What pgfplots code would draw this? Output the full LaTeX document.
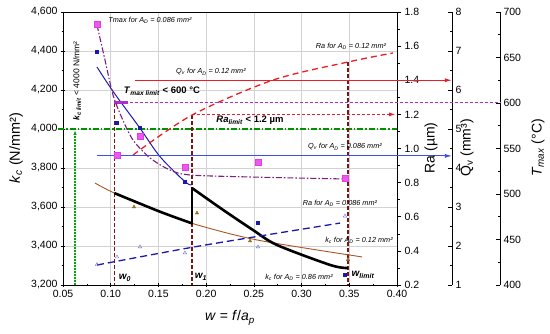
\documentclass[border=0pt]{standalone}
\usepackage{fontspec}
\setmainfont{Liberation Sans}
\usepackage{pgfplots}
\pgfplotsset{compat=1.18}
\usetikzlibrary{arrows.meta}
\definecolor{kblue}{RGB}{25,25,175}
\definecolor{qvblue}{RGB}{60,80,225}
\definecolor{kbrown}{RGB}{170,85,35}
\definecolor{tri}{RGB}{150,110,40}
\definecolor{mag}{RGB}{230,60,230}
\definecolor{purp}{RGB}{125,30,125}
\definecolor{purpl}{RGB}{175,45,200}
\definecolor{kred}{RGB}{235,30,40}
\definecolor{dred}{RGB}{125,20,20}
\definecolor{kgreen}{RGB}{0,145,0}
\definecolor{dgreen}{RGB}{0,170,0}
\definecolor{ltri}{RGB}{110,110,215}
\pgfplotsset{
  base/.style={scale only axis, height=273pt, xmin=0.05,
    /pgf/number format/assume math mode=true,
    ticklabel style={font=\fontsize{10.5}{12}\selectfont},
    every tick/.style={black, line width=0.6pt},
    major tick length=4pt, minor tick length=2.5pt,
    axis line style={line width=0.8pt},
    clip=false, at={(0pt,0pt)}, anchor=south west},
}
\newcommand{\ad}{\textit{A}\textsubscript{\textit{D}}}
\begin{document}
\begin{tikzpicture}
% ---------- main kc axis ----------
\begin{axis}[base, width=334pt, xmax=0.40, ymin=3200, ymax=4600,
  xtick={0.05,0.1,0.15,0.2,0.25,0.3,0.35,0.4},
  xticklabels={0.05,0.10,0.15,0.20,0.25,0.30,0.35,0.40},
  ytick={3200,3400,3600,3800,4000,4200,4400,4600},
  yticklabels={{3,200},{3,400},{3,600},{3,800},{4,000},{4,200},{4,400},{4,600}},
  minor x tick num=1, minor y tick num=1,
  xtick pos=left, ytick pos=left, tick align=center,
  grid=major, major grid style={gray!35, line width=0.6pt}]
% kc limit
\addplot[kgreen, line width=1.3pt, dash pattern=on 6pt off 2pt on 1.5pt off 2pt] coordinates {(0.045,4000) (0.40,4000)};
\addplot[dgreen, line width=1.2pt, dash pattern=on 1.5pt off 1.5pt, -{Latex[length=5pt,width=3.5pt]}] coordinates {(0.0626,3200) (0.0626,3995)};
% w verticals
\addplot[dred, line width=1.8pt, dash pattern=on 4pt off 2pt] coordinates {(0.104,4133) (0.104,3200)};
\addplot[dred, line width=1.8pt, dash pattern=on 4pt off 2pt] coordinates {(0.1852,4072) (0.1852,3200)};
\addplot[dred, line width=1.8pt, dash pattern=on 4pt off 2pt] coordinates {(0.349,4344) (0.349,3200)};
% kc fit AD=0.86
\addplot[kblue, line width=1pt, smooth] coordinates {(0.0856,4318) (0.1027,4191) (0.1307,4004) (0.1517,3858) (0.1778,3730) (0.1849,3713)};
\addplot[only marks, mark=square*, mark size=1.4pt, kblue] coordinates {(0.0856,4395) (0.1066,4031) (0.1307,4005) (0.1778,3728) (0.2543,3518) (0.3455,3251)};
% kc fit AD=0.12
\addplot[kbrown, line width=0.9pt, smooth] coordinates {(0.0835,3723) (0.1045,3670) (0.1516,3576) (0.1852,3516) (0.2533,3431) (0.3633,3344)};
\addplot[only marks, mark=triangle*, mark size=2pt, tri] coordinates {(0.1244,3600) (0.1904,3569) (0.246,3426) (0.3487,3330)};
% thick black path
\addplot[black, line width=2.6pt, smooth, line cap=round] coordinates {(0.1045,3670) (0.1516,3576) (0.1852,3516)};
\addplot[black, line width=2.6pt, line cap=round] coordinates {(0.1852,3516) (0.1852,3697)};
\addplot[black, line width=2.6pt, smooth, line cap=round] coordinates {(0.1852,3697) (0.2178,3585) (0.2491,3482) (0.2743,3405) (0.3298,3303) (0.3476,3287)};
\end{axis}
% ---------- Ra axis ----------
\begin{axis}[base, width=334pt, xmax=0.40, ymin=0.2, ymax=1.8,
  axis y line*=right, axis x line=none, tick align=outside,
  ytick={0.2,0.4,0.6,0.8,1.0,1.2,1.4,1.6,1.8},
  yticklabels={0.2,0.4,0.6,0.8,1.0,1.2,1.4,1.6,1.8},
  minor y tick num=1]
\addplot[kred, line width=1.3pt, dash pattern=on 6pt off 4pt, smooth] coordinates {(0.1234,0.962) (0.1852,1.196) (0.27,1.401) (0.3487,1.507) (0.3958,1.56)};
\addplot[kred, line width=1.3pt, dash pattern=on 3pt off 2pt, -{Latex[length=7pt,width=4pt]}] coordinates {(0.1852,1.2) (0.399,1.2)};
\addplot[kblue, line width=1.3pt, dash pattern=on 7pt off 4pt, smooth] coordinates {(0.0856,0.317) (0.1936,0.429) (0.3403,0.563)};
\addplot[only marks, mark=triangle, mark size=2pt, ltri] coordinates {(0.0856,0.32) (0.1066,0.364) (0.1307,0.423) (0.1778,0.388) (0.2543,0.423) (0.3455,0.604)};
\end{axis}
% ---------- Qv axis ----------
\begin{axis}[base, width=389pt, xmax=0.45763, ymin=1, ymax=8,
  axis y line*=right, axis x line=none, tick align=inside,
  ytick={1,2,3,4,5,6,7,8}, minor y tick num=1]
\addplot[color=qvblue, line width=0.9pt, -{Latex[length=7pt,width=4pt]}] coordinates {(0.0856,4.31) (0.4576,4.31)};
\addplot[color=kred, line width=1pt, -{Latex[length=7pt,width=4pt]}] coordinates {(0.1255,6.25) (0.4576,6.25)};
\end{axis}
% ---------- Tmax axis ----------
\begin{axis}[base, width=437pt, xmax=0.50793, ymin=400, ymax=700,
  axis y line*=right, axis x line=none, tick align=inside,
  ytick={400,450,500,550,600,650,700}, minor y tick num=1]
\addplot[purpl, line width=1pt, dash pattern=on 3pt off 2pt] coordinates {(0.104,600) (0.50793,600)};
\addplot[purpl, line width=3pt] coordinates {(0.1034,600) (0.1185,600)};
\addplot[purp, line width=1.1pt, dash pattern=on 6pt off 2pt on 1.5pt off 2pt, smooth] coordinates {(0.0856,685.7) (0.094,647.3) (0.1024,608.8) (0.1118,583.5) (0.1234,559.3) (0.1412,539.6) (0.1621,526.4) (0.1831,520.9) (0.246,518.7) (0.3455,516.5)};
\addplot[only marks, mark=square*, mark size=2.8pt, mag, mark options={fill=mag!85}] coordinates {(0.0856,686.8) (0.1066,542.9) (0.1307,563.7) (0.1778,529.7) (0.2543,535.2) (0.3455,517.6)};
\end{axis}
% ---------- labels ----------
\node[rotate=90, font=\fontsize{14.5}{16}\selectfont] at (-47pt,137pt) {\textit{k}\textsubscript{\textit{c}} (N/mm²)};
\node[rotate=90, font=\fontsize{14}{16}\selectfont] at (368pt,137pt) {Ra (µm)};
\node[rotate=90, font=\fontsize{14}{16}\selectfont] at (404pt,137pt) {Q\textsubscript{v} (mm³)};
\node[rotate=90, font=\fontsize{14}{16}\selectfont] at (475pt,137pt) {\textit{T}\textsubscript{\textit{max}} (°C)};
\node[font=\fontsize{14}{16}\selectfont] at (167pt,-33pt) {\textit{w} = \textit{f}/\textit{a}\textsubscript{\textit{p}}};
% annotations
\begin{scope}[every node/.style={font=\fontsize{7.3}{8}\itshape, inner sep=0.5pt}]
\node at (87pt,265pt) {Tmax for \ad{} = 0.086 mm²};
\node at (148pt,213pt) {Q\textsubscript{v} for \ad{} = 0.12 mm²};
\node at (288pt,239pt) {Ra for \ad{} = 0.12 mm²};
\node at (282pt,138pt) {Q\textsubscript{v} for \ad{} = 0.086 mm²};
\node at (277pt,82pt) {Ra for \ad{} = 0.086 mm²};
\node at (296pt,45pt) {\textit{k}\textsubscript{c} for \ad{} = 0.12 mm²};
\node at (236pt,8pt) {\textit{k}\textsubscript{c} for \ad{} = 0.86 mm²};
\end{scope}
\node[font=\fontsize{9.5}{11}\bfseries] at (99pt,194pt) {\textit{T}\textsubscript{\textit{max limit}} < 600 °C};
\node[font=\fontsize{9.5}{11}\bfseries] at (187pt,165pt) {\textit{Ra}\textsubscript{\textit{limit}} < 1.2 µm};
\node[rotate=90, font=\fontsize{8.5}{10}\selectfont] at (14pt,204pt) {\textbf{\textit{k}\textsubscript{\textit{c limit}}} < 4000 N/mm²};
\node[font=\fontsize{10}{11}\bfseries\itshape] at (62pt,7pt) {w\textsubscript{0}};
\node[font=\fontsize{10}{11}\bfseries\itshape] at (138pt,8pt) {w\textsubscript{1}};
\node[font=\fontsize{10}{11}\bfseries\itshape] at (300pt,10pt) {w\textsubscript{limit}};
\pgfresetboundingbox
\path[use as bounding box] (-63pt,-49pt) rectangle (487pt,285pt);
\end{tikzpicture}
\end{document}
